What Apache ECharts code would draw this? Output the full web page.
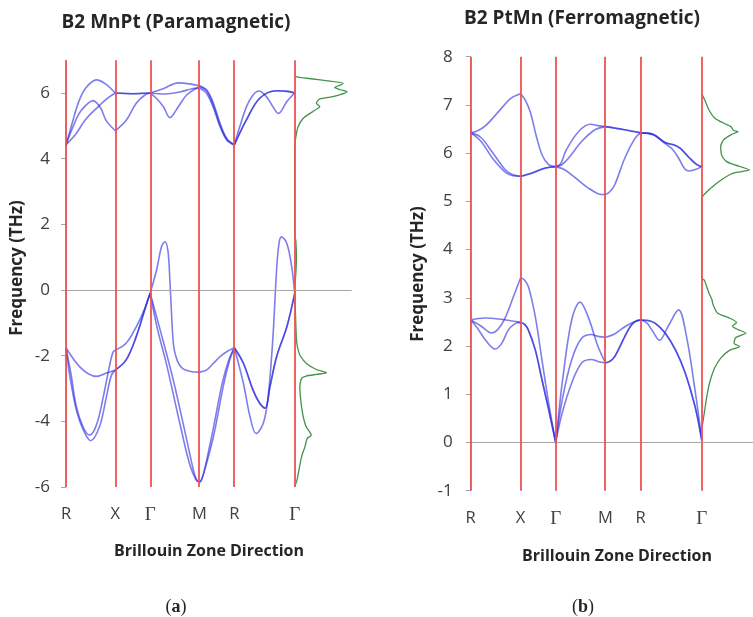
<!DOCTYPE html>
<html>
<head>
<meta charset="utf-8">
<script src="https://cdn.jsdelivr.net/npm/echarts@6/dist/echarts.min.js"></script>
<style>
  html, body { margin: 0; padding: 0; background: #ffffff; }
  #chart { width: 753px; height: 617px; }
</style>
</head>
<body>
<div id="chart"></div>
<script>
// High-symmetry path R–X–Γ–M–R–Γ of the simple-cubic Brillouin zone
// (cumulative path length in units of 2π/a).
const kPath = [0, 0.7071, 1.2071, 1.9142, 2.4142, 3.2802];
const kLabels = ['R', 'X', 'Γ', 'M', 'R', 'Γ'];

// Phonon branches: one list per branch, one sub-list per path segment,
// each entry = [fraction along the segment, frequency in THz].

// B2 MnPt, paramagnetic – optical branches
const mnptOptical1 = [
  [[0, 4.42], [0.1, 4.95], [0.25, 5.7], [0.4, 6.15], [0.62, 6.4], [0.8, 6.28], [1, 6.0]],
  [[0, 6.0], [0.5, 5.98], [1, 6.0]],
  [[0, 6.0], [0.25, 6.12], [0.57, 6.31], [0.8, 6.28], [1, 6.22]],
  [[0, 6.22], [0.21, 6.09], [0.4, 5.69], [0.59, 5.08], [0.78, 4.62], [1, 4.42]],
  [[0, 4.42], [0.09, 4.97], [0.2, 5.58], [0.31, 5.94], [0.41, 6.06], [0.53, 5.89], [0.64, 5.58], [0.73, 5.38], [0.87, 5.74], [1, 6.0]]
];
const mnptOptical2 = [
  [[0, 4.42], [0.15, 5.0], [0.3, 5.45], [0.55, 5.77], [0.7, 5.55], [0.82, 5.15], [1, 4.85]],
  [[0, 4.85], [0.32, 5.18], [0.6, 5.69], [0.85, 5.94], [1, 6.0]],
  [[0, 6.0], [0.12, 5.85], [0.27, 5.58], [0.4, 5.25], [0.57, 5.58], [0.74, 5.94], [1, 6.2]],
  [[0, 6.2], [0.21, 6.05], [0.4, 5.62], [0.59, 5.02], [0.78, 4.6], [1, 4.42]],
  [[0, 4.42], [0.2, 5.18], [0.42, 5.84], [0.7, 6.07], [0.88, 6.05], [1, 6.0]]
];
const mnptOptical3 = [
  [[0, 4.42], [0.2, 4.75], [0.4, 5.2], [0.65, 5.58], [0.85, 5.85], [1, 6.0]],
  [[0, 6.0], [0.5, 5.98], [1, 6.0]],
  [[0, 6.0], [0.3, 5.97], [0.6, 6.03], [0.85, 6.13], [1, 6.15]],
  [[0, 6.15], [0.21, 5.98], [0.4, 5.55], [0.59, 4.98], [0.78, 4.57], [1, 4.42]],
  [[0, 4.42], [0.2, 5.18], [0.42, 5.84], [0.7, 6.07], [0.88, 6.05], [1, 6.0]]
];
// B2 MnPt, paramagnetic – acoustic branches (imaginary modes drawn negative)
const mnptAcoustic1 = [
  [[0, -1.76], [0.15, -2.1], [0.28, -2.34], [0.45, -2.55], [0.62, -2.63], [0.82, -2.53], [1, -2.44]],
  [[0, -2.44], [0.31, -2.13], [0.6, -1.42], [0.9, -0.41], [1, -0.1]],
  [[0, -0.1], [0.2, -1.2], [0.47, -2.75], [0.74, -4.55], [0.9, -5.62], [0.96, -5.82], [1, -5.85]],
  [[0, -5.85], [0.04, -5.82], [0.12, -5.6], [0.4, -4.47], [0.68, -2.95], [0.85, -2.2], [1, -1.76]],
  [[0, -1.76], [0.15, -2.23], [0.31, -3.05], [0.42, -3.45], [0.51, -3.6], [0.59, -2.95], [0.7, -2.03], [0.87, -1.12], [1, -0.1]]
];
const mnptAcoustic2 = [
  [[0, -1.76], [0.08, -2.64], [0.21, -3.66], [0.35, -4.26], [0.5, -4.59], [0.68, -4.16], [0.82, -3.25], [0.92, -2.6], [1, -2.44]],
  [[0, -2.44], [0.31, -2.13], [0.6, -1.42], [0.9, -0.41], [1, -0.1]],
  [[0, -0.1], [0.15, -1.2], [0.33, -2.25], [0.6, -4.05], [0.8, -5.3], [0.93, -5.78], [1, -5.85]],
  [[0, -5.85], [0.05, -5.8], [0.15, -5.45], [0.4, -4.2], [0.65, -2.85], [0.85, -2.1], [1, -1.76]],
  [[0, -1.76], [0.15, -2.23], [0.31, -3.05], [0.42, -3.45], [0.51, -3.6], [0.59, -2.95], [0.7, -2.03], [0.87, -1.12], [1, -0.1]]
];
const mnptAcoustic3 = [
  [[0, -1.76], [0.1, -2.55], [0.21, -3.55], [0.35, -4.18], [0.48, -4.42], [0.62, -4.1], [0.75, -3.3], [0.87, -2.4], [0.95, -1.9], [1, -1.83]],
  [[0, -1.83], [0.31, -1.62], [0.6, -1.12], [0.85, -0.55], [1, -0.1]],
  [[0, -0.1], [0.13, 0.61], [0.23, 1.32], [0.3, 1.47], [0.36, 1.2], [0.4, 0.3], [0.44, -0.91], [0.48, -1.75], [0.55, -2.15], [0.65, -2.38], [0.82, -2.48], [1, -2.5]],
  [[0, -2.5], [0.2, -2.44], [0.4, -2.23], [0.6, -2.02], [0.78, -1.88], [1, -1.76]],
  [[0, -1.76], [0.15, -2.84], [0.26, -3.86], [0.36, -4.37], [0.48, -4.06], [0.56, -3.25], [0.64, -1.42], [0.7, 0.61], [0.74, 1.42], [0.78, 1.62], [0.87, 1.42], [0.95, 0.71], [1, -0.1]]
];

// B2 PtMn, ferromagnetic – optical branches
const ptmnOptical1 = [
  [[0, 6.42], [0.15, 6.47], [0.3, 6.57], [0.55, 6.85], [0.8, 7.13], [1, 7.23]],
  [[0, 7.23], [0.12, 7.12], [0.28, 6.85], [0.45, 6.35], [0.62, 5.95], [0.8, 5.76], [1, 5.72]],
  [[0, 5.72], [0.1, 5.78], [0.2, 6.04], [0.35, 6.3], [0.46, 6.45], [0.6, 6.57], [0.7, 6.6], [0.85, 6.57], [1, 6.55]],
  [[0, 6.55], [0.5, 6.49], [1, 6.42]],
  [[0, 6.42], [0.2, 6.38], [0.4, 6.2], [0.52, 6.08], [0.62, 5.9], [0.73, 5.66], [0.8, 5.63], [0.9, 5.66], [1, 5.72]]
];
const ptmnOptical2 = [
  [[0, 6.42], [0.2, 6.25], [0.45, 5.88], [0.7, 5.6], [0.85, 5.53], [1, 5.52]],
  [[0, 5.52], [0.33, 5.59], [0.71, 5.69], [1, 5.72]],
  [[0, 5.72], [0.12, 5.76], [0.26, 5.9], [0.52, 6.24], [0.78, 6.48], [1, 6.55]],
  [[0, 6.55], [0.5, 6.49], [1, 6.42]],
  [[0, 6.42], [0.2, 6.39], [0.4, 6.22], [0.55, 6.17], [0.65, 6.1], [0.8, 5.9], [0.92, 5.76], [1, 5.72]]
];
const ptmnOptical3 = [
  [[0, 6.42], [0.2, 6.33], [0.42, 6.04], [0.69, 5.66], [0.85, 5.55], [1, 5.52]],
  [[0, 5.52], [0.33, 5.59], [0.71, 5.69], [1, 5.72]],
  [[0, 5.72], [0.15, 5.67], [0.32, 5.55], [0.5, 5.4], [0.65, 5.28], [0.85, 5.16], [1, 5.14]],
  [[0, 5.14], [0.12, 5.2], [0.26, 5.34], [0.55, 5.9], [0.84, 6.31], [1, 6.42]],
  [[0, 6.42], [0.2, 6.39], [0.4, 6.22], [0.55, 6.17], [0.65, 6.1], [0.8, 5.9], [0.92, 5.76], [1, 5.72]]
];
// B2 PtMn, ferromagnetic – acoustic branches
const ptmnAcoustic1 = [
  [[0, 2.54], [0.29, 2.58], [0.56, 2.56], [0.83, 2.52], [1, 2.49]],
  [[0, 2.49], [0.12, 2.45], [0.23, 2.32], [0.42, 1.92], [0.61, 1.3], [0.8, 0.68], [1, 0]],
  [[0, 0], [0.05, 0.5], [0.13, 1.23], [0.32, 2.54], [0.49, 2.91], [0.65, 2.61], [0.85, 1.99], [1, 1.65]],
  [[0, 1.65], [0.12, 1.68], [0.26, 1.78], [0.55, 2.2], [0.74, 2.44], [0.9, 2.53], [1, 2.54]],
  [[0, 2.54], [0.1, 2.48], [0.18, 2.34], [0.31, 2.12], [0.45, 2.41], [0.62, 2.75], [0.75, 2.2], [0.89, 1.09], [1, 0.06]]
];
const ptmnAcoustic2 = [
  [[0, 2.54], [0.2, 2.42], [0.42, 2.27], [0.55, 2.35], [0.69, 2.58], [0.86, 3.03], [1, 3.41]],
  [[0, 3.41], [0.1, 3.38], [0.23, 3.22], [0.42, 2.61], [0.61, 1.71], [0.8, 0.82], [1, 0]],
  [[0, 0], [0.13, 0.88], [0.32, 1.71], [0.52, 2.16], [0.72, 2.24], [0.85, 2.2], [1, 2.18]],
  [[0, 2.18], [0.26, 2.25], [0.55, 2.4], [0.8, 2.5], [1, 2.54]],
  [[0, 2.54], [0.12, 2.53], [0.24, 2.47], [0.4, 2.27], [0.57, 1.92], [0.73, 1.44], [0.89, 0.75], [1, 0.06]]
];
const ptmnAcoustic3 = [
  [[0, 2.54], [0.15, 2.35], [0.3, 2.12], [0.49, 1.94], [0.62, 2.05], [0.76, 2.34], [0.9, 2.47], [1, 2.49]],
  [[0, 2.49], [0.12, 2.45], [0.23, 2.32], [0.42, 1.92], [0.61, 1.3], [0.8, 0.68], [1, 0]],
  [[0, 0], [0.13, 0.61], [0.32, 1.23], [0.52, 1.65], [0.72, 1.72], [0.85, 1.68], [1, 1.65]],
  [[0, 1.65], [0.12, 1.68], [0.26, 1.78], [0.55, 2.2], [0.74, 2.44], [0.9, 2.53], [1, 2.54]],
  [[0, 2.54], [0.12, 2.53], [0.24, 2.47], [0.4, 2.27], [0.57, 1.92], [0.73, 1.44], [0.89, 0.75], [1, 0.06]]
];

// Phonon density of states: [frequency THz, DOS (arb. units)]
const mnptDos = [
  [6.5, 0], [6.47, 0.12], [6.4, 0.45], [6.3, 0.85], [6.24, 0.8], [6.17, 0.7], [6.1, 0.8], [6.04, 0.92],
  [5.95, 0.8], [5.89, 0.67], [5.82, 0.44], [5.69, 0.38], [5.59, 0.44], [5.44, 0.32], [5.23, 0.15],
  [4.97, 0.06], [4.66, 0.02], [4.35, 0], [1.7, 0], [1.5, 0.02], [1.0, 0.03], [0.5, 0.02], [0.05, 0],
  [-0.5, 0.01], [-1.5, 0.03], [-1.75, 0.05], [-1.98, 0.09], [-2.23, 0.2], [-2.42, 0.38], [-2.52, 0.56],
  [-2.57, 0.38], [-2.62, 0.2], [-2.69, 0.12], [-2.94, 0.09], [-3.25, 0.1], [-3.55, 0.12], [-3.86, 0.15],
  [-4.16, 0.2], [-4.42, 0.29], [-4.52, 0.22], [-4.77, 0.18], [-5.08, 0.12], [-5.43, 0.08], [-5.79, 0.04], [-5.99, 0]
];
const ptmnDos = [
  [7.23, 0], [7.1, 0.06], [6.9, 0.14], [6.73, 0.25], [6.62, 0.43], [6.55, 0.57], [6.47, 0.62], [6.45, 0.71],
  [6.38, 0.57], [6.28, 0.43], [6.14, 0.37], [6.0, 0.38], [5.93, 0.4], [5.83, 0.48], [5.76, 0.63], [5.65, 0.93],
  [5.59, 0.63], [5.48, 0.43], [5.34, 0.25], [5.21, 0.11], [5.12, 0.03], [5.06, 0], [3.4, 0], [3.37, 0.05],
  [3.1, 0.14], [2.96, 0.2], [2.86, 0.22], [2.68, 0.31], [2.58, 0.54], [2.49, 0.68], [2.41, 0.6], [2.34, 0.71],
  [2.27, 0.86], [2.17, 0.66], [2.06, 0.63], [1.99, 0.74], [1.91, 0.54], [1.75, 0.37], [1.54, 0.25],
  [1.3, 0.17], [1.02, 0.11], [0.61, 0.05], [0.4, 0.02], [0.3, 0]
];

// Axis tick values
const mnptTicks = [-6, -4, -2, 0, 2, 4, 6];
const ptmnTicks = [-1, 0, 1, 2, 3, 4, 5, 6, 7, 8];

const SANS = '"Open Sans", "DejaVu Sans", sans-serif';
const SERIF = '"Liberation Serif", serif';
const BAND_COLOR = 'rgba(45,45,225,0.62)';
const RED = '#f05252';
const GREY = '#a6a6a6';

// Turn per-segment branch data into [k, ν] points; segments are split at the
// symmetry points so each one is smoothed on its own.
function branchPoints(segments) {
  const pts = [];
  segments.forEach((seg, i) => {
    const k0 = kPath[i], k1 = kPath[i + 1];
    seg.forEach(([f, v]) => pts.push([k0 + (k1 - k0) * f, v]));
    if (i < segments.length - 1) pts.push([k1, '-']);
  });
  return pts;
}

function kLabel(v) {
  let best = 0;
  kPath.forEach((k, i) => { if (Math.abs(k - v) < Math.abs(kPath[best] - v)) best = i; });
  const name = kLabels[best];
  return name === 'Γ' ? '{g|Γ}' : name;
}

function bandXAxis(grid) {
  return {
    gridIndex: grid, type: 'value', min: 0, max: kPath[kPath.length - 1],
    axisLine: { show: false }, axisTick: { show: false }, splitLine: { show: false },
    axisLabel: {
      customValues: kPath, formatter: kLabel, margin: 19,
      color: '#404040', fontFamily: SANS, fontSize: 16.5,
      rich: { g: { fontFamily: SERIF, fontSize: 19, color: '#404040' } }
    }
  };
}
function dosXAxis(grid) {
  return { gridIndex: grid, type: 'value', min: 0, max: 1, show: false };
}
function bandYAxis(grid, min, max, ticks, margin) {
  return {
    gridIndex: grid, type: 'value', min: min, max: max,
    axisLine: { show: true, lineStyle: { color: GREY, width: 1 } },
    axisTick: { show: true, customValues: ticks, length: 5, lineStyle: { color: GREY } },
    axisLabel: { customValues: ticks, margin: margin, color: '#404040', fontFamily: SANS, fontSize: 17 },
    splitLine: { show: false }
  };
}
function dosYAxis(grid, min, max) {
  return { gridIndex: grid, type: 'value', min: min, max: max, show: false };
}

function frameSeries(axisIdx, withKLines) {
  const lines = [];
  if (withKLines) {
    kPath.forEach(k => lines.push({ xAxis: k, lineStyle: { color: RED, width: 1.8, type: 'solid' } }));
  }
  lines.unshift({ yAxis: 0, lineStyle: { color: GREY, width: 1.2, type: 'solid' } });
  return {
    type: 'line', xAxisIndex: axisIdx, yAxisIndex: axisIdx, data: [], z: 1, silent: true,
    markLine: { silent: true, symbol: ['none', 'none'], label: { show: false }, animation: false, data: lines }
  };
}
function branchSeries(segments, axisIdx) {
  return {
    type: 'line', xAxisIndex: axisIdx, yAxisIndex: axisIdx, data: branchPoints(segments),
    smooth: 0.35, showSymbol: false, symbol: 'none', z: 3, silent: true,
    lineStyle: { color: BAND_COLOR, width: 1.6 }
  };
}
function dosSeries(dos, axisIdx) {
  return {
    type: 'line', xAxisIndex: axisIdx, yAxisIndex: axisIdx,
    data: dos.map(([f, d]) => [d, f]),
    showSymbol: false, symbol: 'none', z: 4, silent: true, smooth: 0.2,
    lineStyle: { color: '#43934a', width: 1.3 }
  };
}

function label(text, x, y, font, rotation) {
  return {
    type: 'text', x: x, y: y, rotation: rotation || 0, silent: true,
    style: { text: text, font: font, fill: '#262626', textAlign: 'center', textVerticalAlign: 'middle' }
  };
}
function panelTag(letter, x, y) {
  return {
    type: 'text', x: x, y: y, silent: true,
    style: {
      text: '({b|' + letter + '})', font: '18px ' + SERIF, fill: '#262626',
      textAlign: 'center', textVerticalAlign: 'middle',
      rich: { b: { fontWeight: 'bold', fontFamily: SERIF, fontSize: 18 } }
    }
  };
}

const chart = echarts.init(document.getElementById('chart'));
chart.setOption({
  animation: false,
  backgroundColor: '#ffffff',
  grid: [
    { left: 66, top: 60.2, width: 228.7, height: 426.8 },
    { left: 294.7, top: 60.2, width: 57, height: 426.8 },
    { left: 470.7, top: 56.7, width: 231, height: 434 },
    { left: 701.7, top: 56.7, width: 58, height: 434 }
  ],
  xAxis: [bandXAxis(0), dosXAxis(1), bandXAxis(2), dosXAxis(3)],
  yAxis: [
    bandYAxis(0, -6, 7, mnptTicks, 16), dosYAxis(1, -6, 7),
    bandYAxis(2, -1, 8, ptmnTicks, 18), dosYAxis(3, -1, 8)
  ],
  series: [
    frameSeries(0, true), frameSeries(1, false),
    frameSeries(2, true), frameSeries(3, false),
    branchSeries(mnptOptical1, 0), branchSeries(mnptOptical2, 0), branchSeries(mnptOptical3, 0),
    branchSeries(mnptAcoustic1, 0), branchSeries(mnptAcoustic2, 0), branchSeries(mnptAcoustic3, 0),
    branchSeries(ptmnOptical1, 2), branchSeries(ptmnOptical2, 2), branchSeries(ptmnOptical3, 2),
    branchSeries(ptmnAcoustic1, 2), branchSeries(ptmnAcoustic2, 2), branchSeries(ptmnAcoustic3, 2),
    dosSeries(mnptDos, 1), dosSeries(ptmnDos, 3)
  ],
  graphic: [
    label('B2 MnPt (Paramagnetic)', 176, 23, 'bold 19px ' + SANS),
    label('B2 PtMn (Ferromagnetic)', 582, 19, 'bold 19px ' + SANS),
    label('Frequency (THz)', 17, 268, 'bold 17px ' + SANS, Math.PI / 2),
    label('Frequency (THz)', 418, 274, 'bold 17px ' + SANS, Math.PI / 2),
    label('Brillouin Zone Direction', 209, 551, 'bold 16px ' + SANS),
    label('Brillouin Zone Direction', 617, 556, 'bold 16px ' + SANS),
    panelTag('a', 176, 607),
    panelTag('b', 583, 607)
  ]
});
</script>
</body>
</html>
